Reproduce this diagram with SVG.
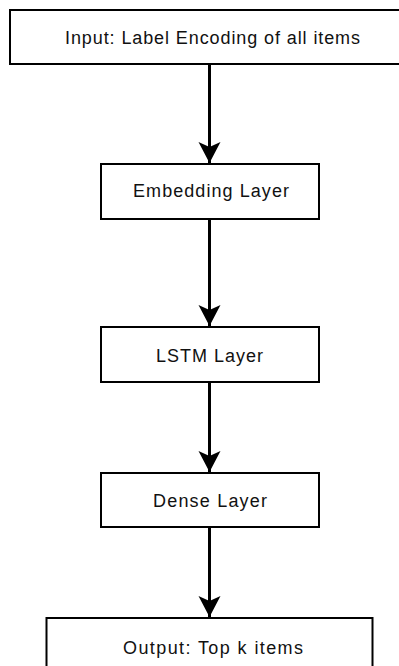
<svg xmlns="http://www.w3.org/2000/svg" width="399" height="666" viewBox="0 0 399 666">
<style>
.box{fill:#fff;stroke:#000;stroke-width:2}
.lbl{font-family:"Liberation Sans",Arial,sans-serif;font-size:18px;fill:#111;text-anchor:middle}
.edge{stroke:#000;stroke-width:3;fill:none}
</style>
<defs>
<marker id="ah" markerUnits="userSpaceOnUse" markerWidth="24" markerHeight="24" refX="21" refY="11" orient="auto">
<path d="M0,0 L21,11 L0,22 L5,11 Z" fill="#000"/>
</marker>
</defs>
<rect width="399" height="666" fill="#fff"/>
<g id="connectors">
<line class="edge" x1="209.5" y1="65" x2="209.5" y2="163" marker-end="url(#ah)"/>
<line class="edge" x1="209.5" y1="220" x2="209.5" y2="326" marker-end="url(#ah)"/>
<line class="edge" x1="209.5" y1="383" x2="209.5" y2="472" marker-end="url(#ah)"/>
<line class="edge" x1="209.5" y1="528" x2="209.5" y2="617" marker-end="url(#ah)"/>
</g>
<g id="input">
<rect class="box" x="10" y="10" width="405" height="54"/>
<text class="lbl" x="212.5" y="44" textLength="295" lengthAdjust="spacing">Input: Label Encoding of all items</text>
</g>
<g id="embedding">
<rect class="box" x="101" y="164" width="218" height="55"/>
<text class="lbl" x="211" y="196.5" textLength="156" lengthAdjust="spacing">Embedding Layer</text>
</g>
<g id="lstm">
<rect class="box" x="101" y="327" width="218" height="55"/>
<text class="lbl" x="209.5" y="362" textLength="107" lengthAdjust="spacing">LSTM Layer</text>
</g>
<g id="dense">
<rect class="box" x="101" y="473" width="218" height="54"/>
<text class="lbl" x="210" y="507" textLength="114" lengthAdjust="spacing">Dense Layer</text>
</g>
<g id="output">
<rect class="box" x="46.5" y="618" width="326" height="60"/>
<text class="lbl" x="213" y="653.5" textLength="180" lengthAdjust="spacing">Output: Top k items</text>
</g>
</svg>
